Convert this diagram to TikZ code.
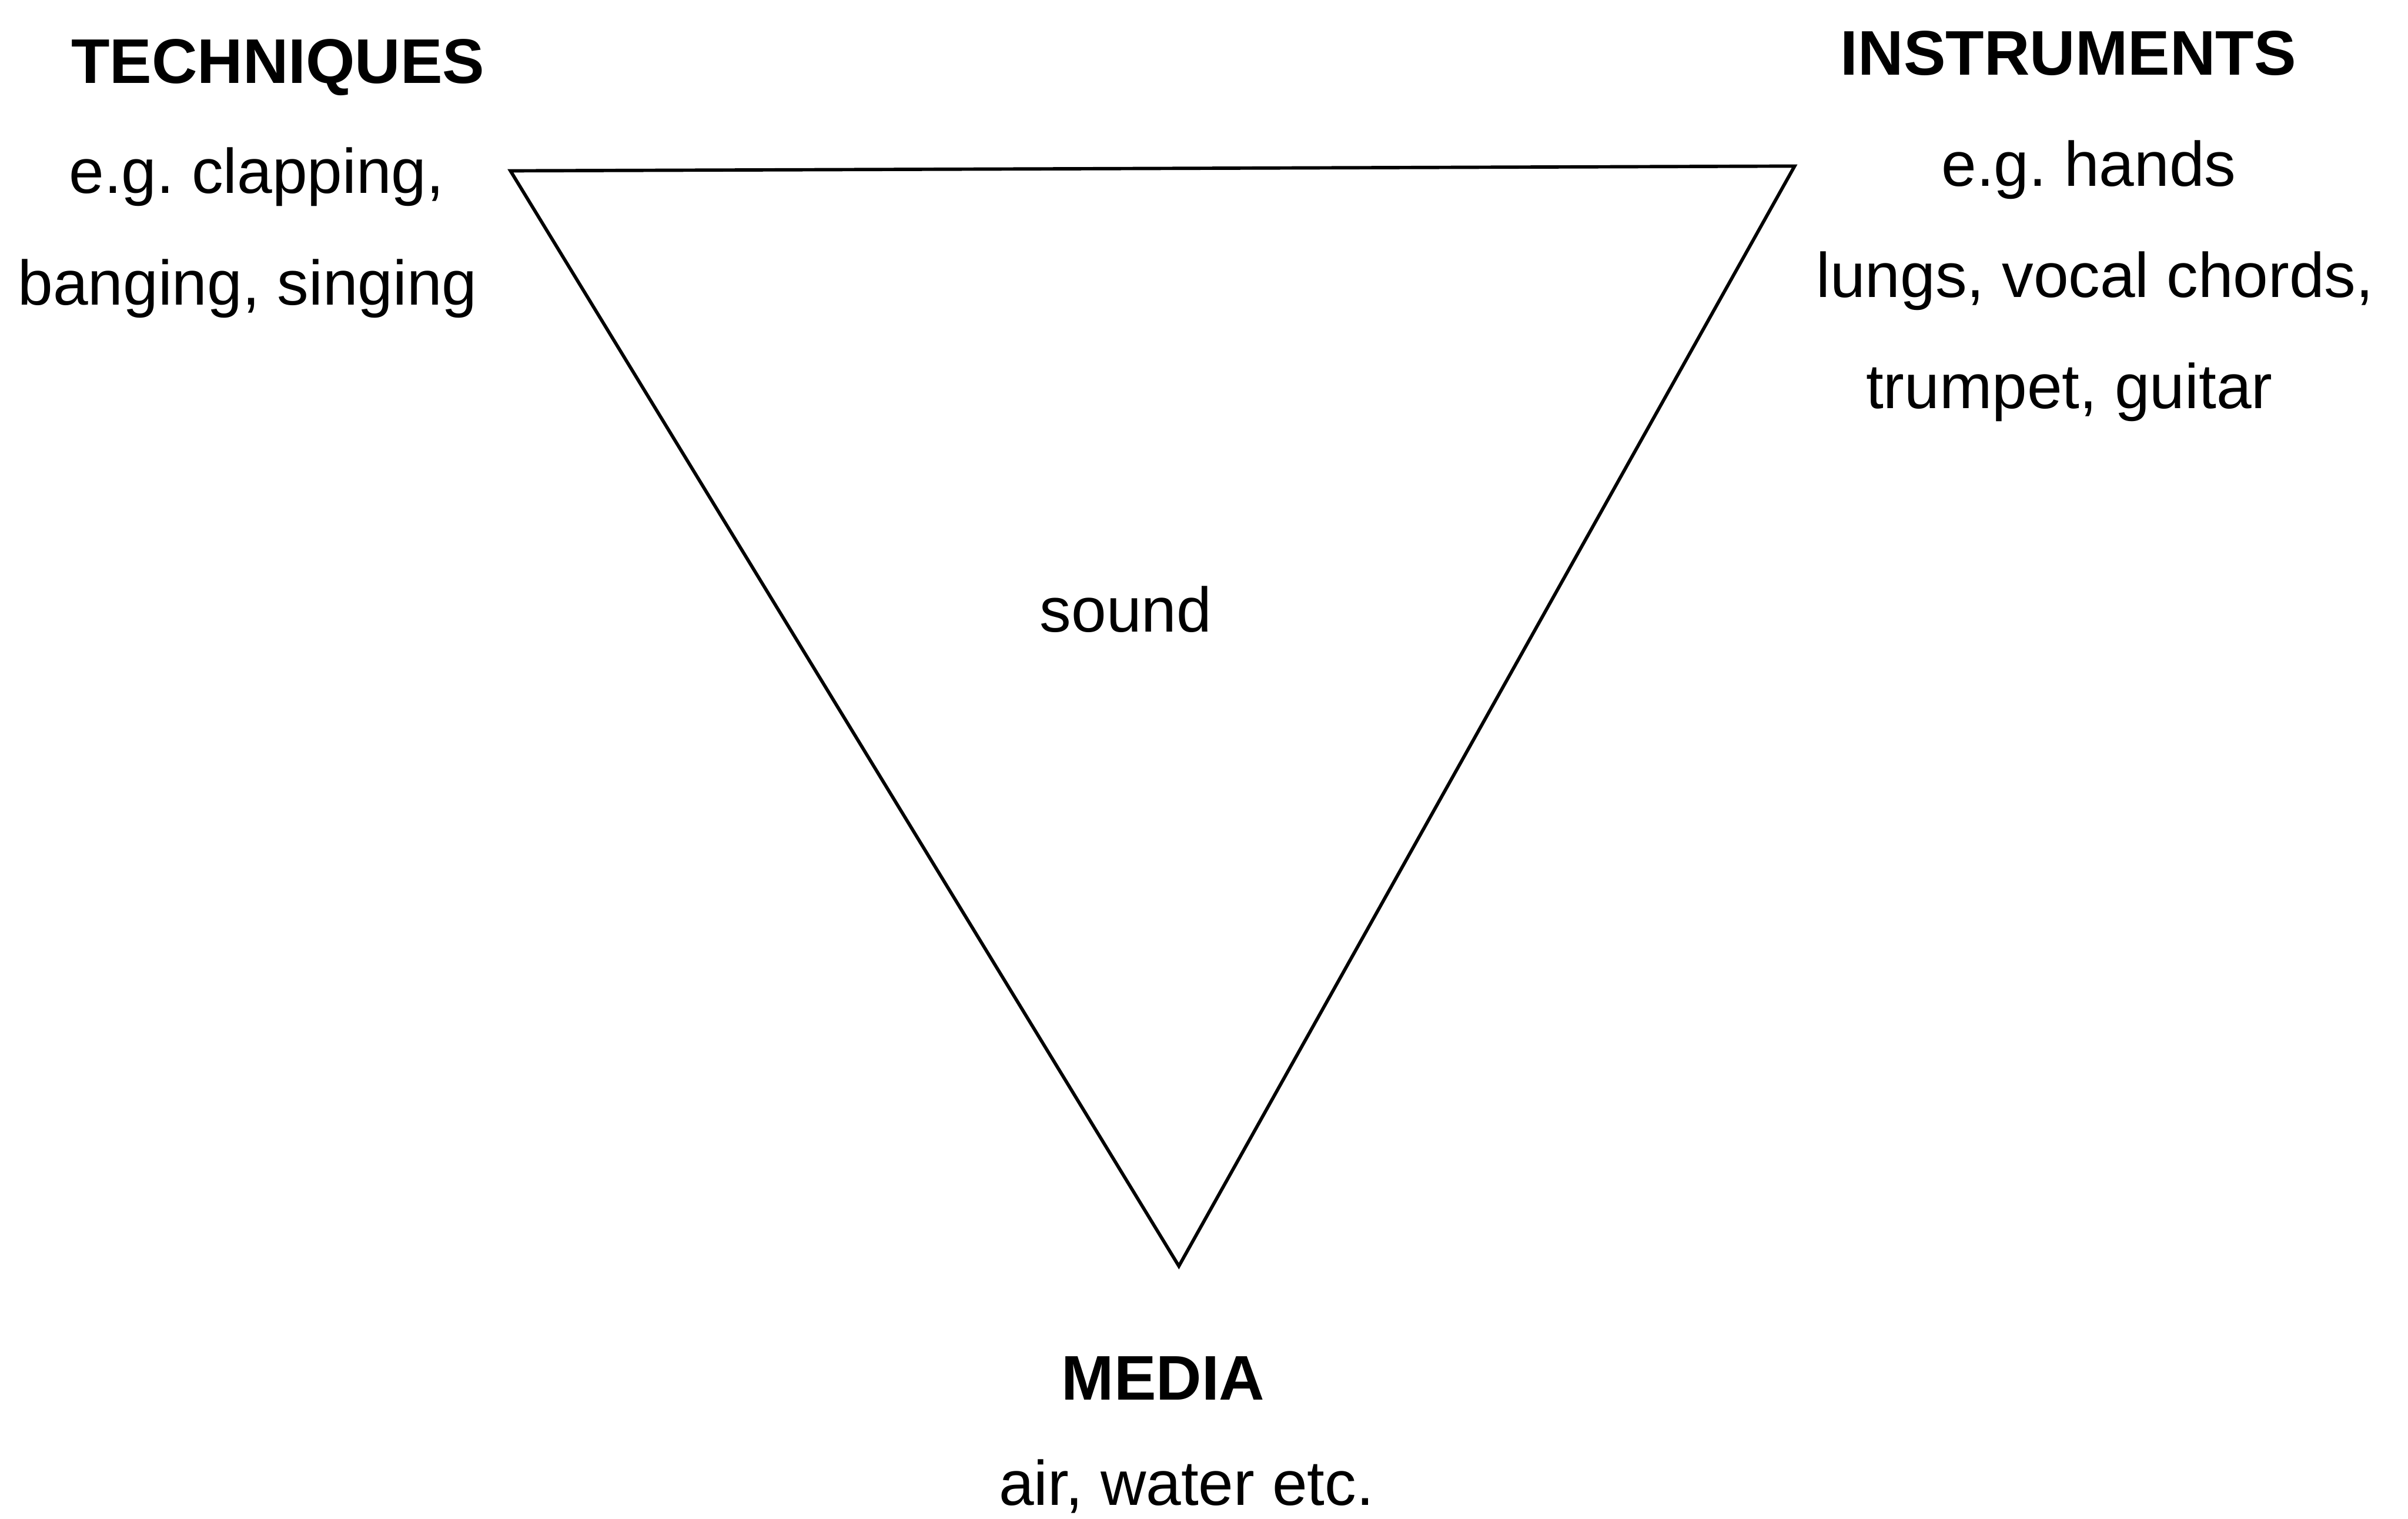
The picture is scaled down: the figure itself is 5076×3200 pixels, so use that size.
\documentclass[tikz,border=0pt]{standalone}
\usepackage{fontspec}
\setmainfont{Liberation Sans}
\frenchspacing
\begin{document}
\begin{tikzpicture}[x=0.01cm,y=-0.01cm,
  lbl/.style={anchor=base,inner sep=0pt,font=\fontsize{37.8}{45}\selectfont},
  head/.style={lbl,font=\fontsize{37.8}{45}\selectfont\bfseries},
  tri/.style={line width=2pt,line join=miter}]
\useasboundingbox (0,0) rectangle (5076,3200);
\coordinate (tl) at (1076,360);
\coordinate (tr) at (3783,350);
\coordinate (bt) at (2485,2668);
\draw[tri] (tl) -- (tr) -- (bt) -- cycle;
\node[head] (tech) at (586,175) {TECHNIQUES};
\node[lbl] (tech1) at (541,407) {e.g.\ clapping,};
\node[lbl] (tech2) at (522,643) {banging, singing};
\node[head] (inst) at (4360,158) {INSTRUMENTS};
\node[lbl] (inst1) at (4403,392) {e.g.\ hands};
\node[lbl] (inst2) at (4416,626) {lungs, vocal chords,};
\node[lbl] (inst3) at (4362,861) {trumpet, guitar};
\node[lbl] (sound) at (2373,1332) {sound};
\node[head] (media) at (2452,2950) {MEDIA};
\node[lbl] (media1) at (2501,3172) {air, water etc.};
\end{tikzpicture}
\end{document}
